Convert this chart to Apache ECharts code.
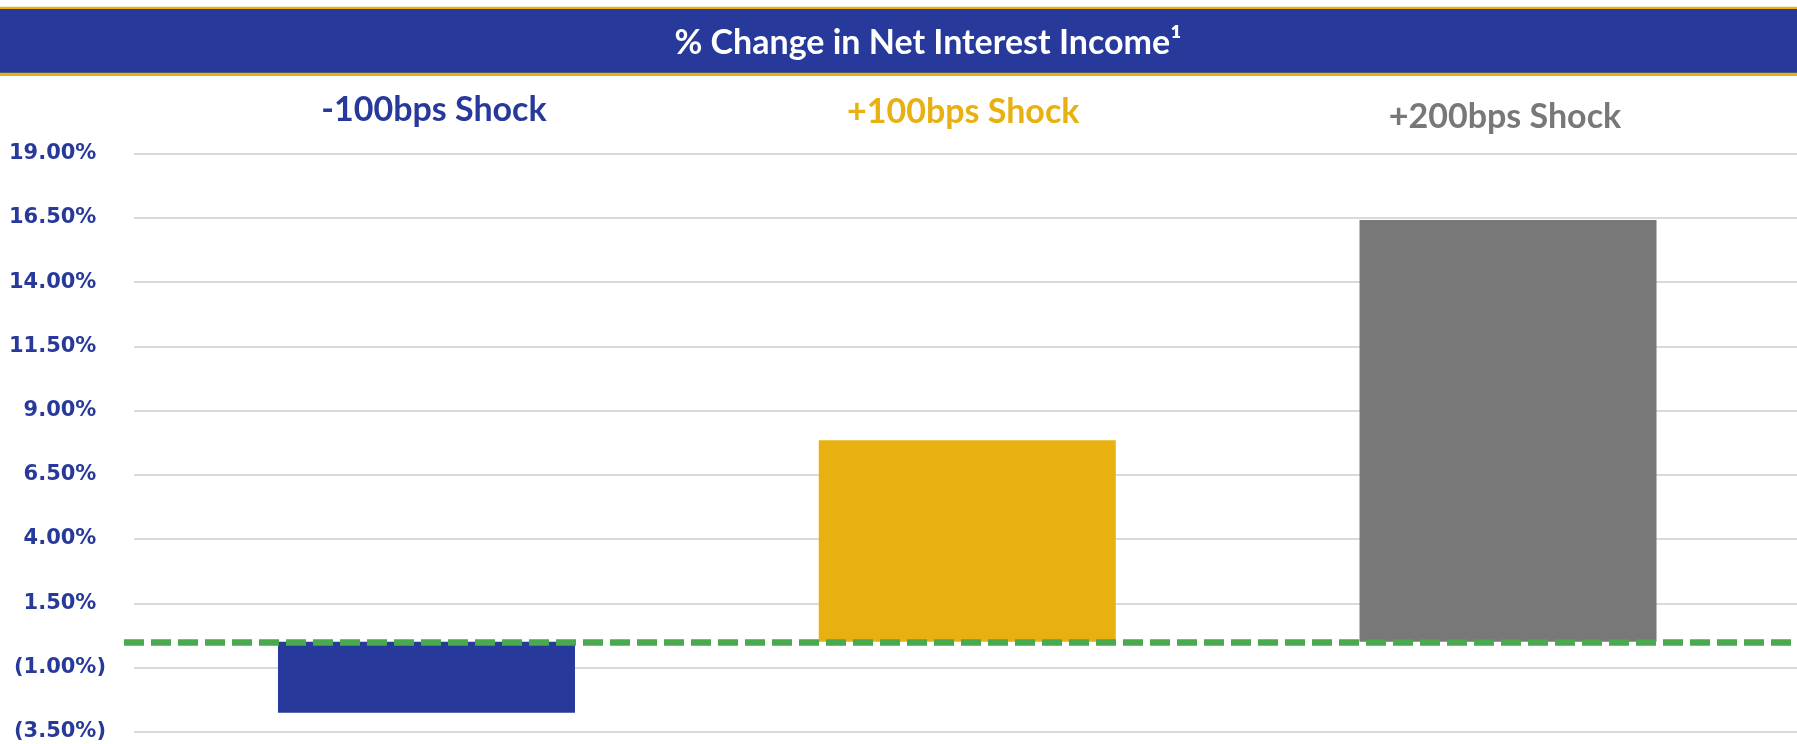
<!DOCTYPE html>
<html>
<head>
<meta charset="utf-8">
<script src="https://cdn.jsdelivr.net/npm/echarts@6/dist/echarts.min.js"></script>
<style>
  html, body { margin: 0; padding: 0; background: #ffffff; }
  #chart { width: 1797px; height: 744px; }
</style>
</head>
<body>
<div id="chart"></div>
<script>
// Shock scenarios and the resulting % change in net interest income
const categories = ['-100bps Shock', '+100bps Shock', '+200bps Shock'];
const nimChange = [-2.76, 7.85, 16.42];
const barColors = ['#27399A', '#E8B010', '#787878'];
const labelStyles = ['a', 'b', 'c'];

// Value axis range
const yMin = -3.5;
const yMax = 19;
const yStep = 2.5;

const titleText = '% Change in Net Interest Income\u00B9';

const navy = '#27399A';
const gold = '#E8B010';
const green = '#4AA84F';

const chart = echarts.init(document.getElementById('chart'), null, { renderer: 'canvas' });

// Accounting-style tick labels: negatives in parentheses, positives padded so digits line up
function pctLabel(v) {
  const r = Math.round(v * 100) / 100;
  if (r < 0) return '{v|(' + Math.abs(r).toFixed(2) + '%)}';
  return '{v|' + r.toFixed(2) + '%}{h|)}';
}

const gridTop = 153.7;
const gridBottom = 12.3;
const catFont = { fontFamily: 'Lato, sans-serif', fontWeight: 'bold', fontSize: 34, lineHeight: 40 };

const option = {
  animation: false,
  backgroundColor: '#ffffff',
  graphic: [
    { type: 'rect', shape: { x: 0, y: 6.7, width: 1797, height: 2.5 }, style: { fill: gold }, silent: true },
    { type: 'rect', shape: { x: 0, y: 9, width: 1797, height: 64 }, style: { fill: navy }, silent: true },
    { type: 'rect', shape: { x: 0, y: 72.8, width: 1797, height: 3.2 }, style: { fill: gold }, silent: true },
    {
      type: 'text', x: 928, y: 43, silent: true,
      style: {
        text: titleText, fill: '#ffffff',
        font: 'bold 34px Lato, "Open Sans", sans-serif',
        align: 'center', verticalAlign: 'middle',
        textAlign: 'center', textVerticalAlign: 'middle'
      }
    }
  ],
  grid: [
    // value axis labels + gridlines
    { left: 134, right: 0, top: gridTop, bottom: gridBottom },
    // bars
    { left: 156.1, right: 18.6, top: gridTop, bottom: gridBottom },
    // zero reference line
    { left: 124, right: 0, top: gridTop, bottom: gridBottom }
  ],
  xAxis: [
    { gridIndex: 0, type: 'category', data: categories, show: false },
    {
      gridIndex: 1, type: 'category', data: categories, position: 'top',
      axisLine: { show: false }, axisTick: { show: false }, splitLine: { show: false },
      axisLabel: {
        show: true, interval: 0, margin: 17,
        formatter: function (val, idx) { return '{' + labelStyles[idx] + '|' + val + '}'; },
        rich: {
          a: Object.assign({ color: barColors[0], padding: [0, 0, 13, 15] }, catFont),
          b: Object.assign({ color: barColors[1], padding: [0, 8, 9, 0] }, catFont),
          c: Object.assign({ color: barColors[2], padding: [0, 6, 0, 0] }, catFont)
        }
      }
    },
    { gridIndex: 2, type: 'category', data: categories, show: false }
  ],
  yAxis: [
    {
      gridIndex: 0, type: 'value', min: yMin, max: yMax, interval: yStep,
      axisLine: { show: false }, axisTick: { show: false },
      splitLine: { show: true, lineStyle: { color: '#D9D9D9', width: 2 } },
      axisLabel: {
        margin: 28,
        formatter: pctLabel,
        rich: {
          v: { color: navy, fontFamily: '"DejaVu Sans", sans-serif', fontWeight: 'bold', fontSize: 21 },
          h: { color: 'rgba(0,0,0,0)', fontFamily: '"DejaVu Sans", sans-serif', fontWeight: 'bold', fontSize: 21 }
        }
      }
    },
    { gridIndex: 1, type: 'value', min: yMin, max: yMax, interval: yStep, show: false, splitLine: { show: false } },
    { gridIndex: 2, type: 'value', min: yMin, max: yMax, interval: yStep, show: false, splitLine: { show: false } }
  ],
  series: [
    {
      type: 'bar', xAxisIndex: 1, yAxisIndex: 1,
      barWidth: 297,
      z: 2,
      data: nimChange.map(function (v, i) {
        return { value: v, itemStyle: { color: barColors[i] } };
      })
    },
    {
      type: 'line', xAxisIndex: 2, yAxisIndex: 2,
      data: ['-', '-', '-'], showSymbol: false, z: 5,
      markLine: {
        silent: true, symbol: 'none',
        label: { show: false },
        lineStyle: { color: green, width: 6.5, type: [20, 7], opacity: 1 },
        data: [{ yAxis: 0 }]
      }
    }
  ]
};

chart.setOption(option);
</script>
</body>
</html>
